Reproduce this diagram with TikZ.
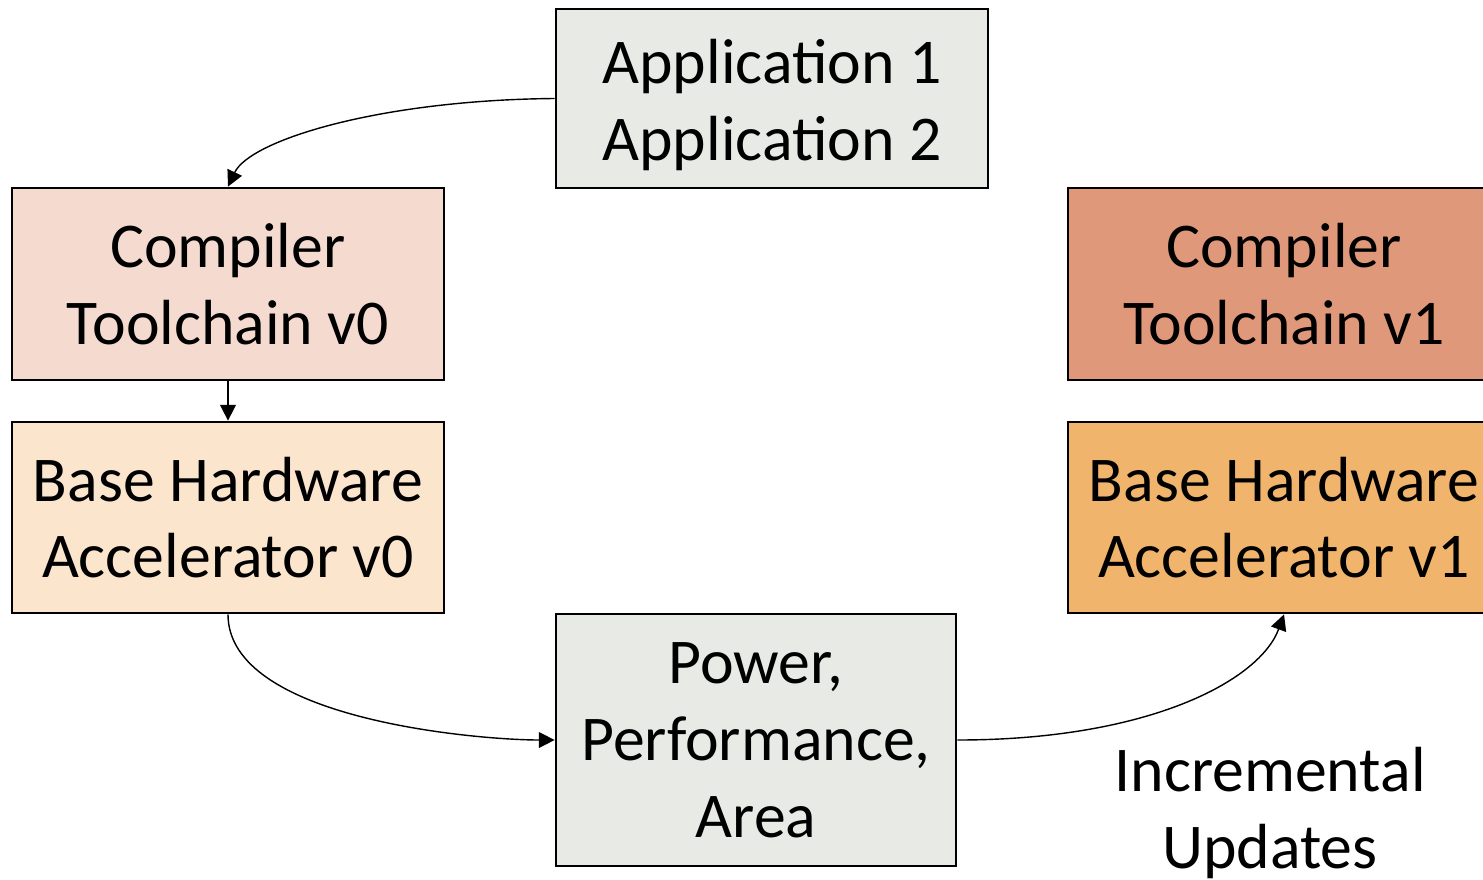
\documentclass[tikz,border=0pt]{standalone}
\usepackage{fontspec}
\setmainfont{Carlito}
\usetikzlibrary{arrows.meta}
\definecolor{appgray}{HTML}{E8EAE5}
\definecolor{compzero}{HTML}{F5DBCF}
\definecolor{hwzero}{HTML}{FBE5CD}
\definecolor{compone}{HTML}{E0987A}
\definecolor{hwone}{HTML}{F1B46C}
\tikzset{
  box/.style={draw=black, line width=1.6pt, rectangle, inner sep=0pt,
    align=center, font=\fontsize{36.3}{43.7}\selectfont,
    minimum width=8.64cm},
  note/.style={align=center, inner sep=0pt, font=\fontsize{36.3}{43.7}\selectfont},
  conn/.style={line width=0.8pt, -{Triangle[length=9pt,width=9pt]}}
}
\begin{document}
\begin{tikzpicture}[x=0.02cm, y=-0.02cm]
  \useasboundingbox (0,0) rectangle (1483,879);
  \clip (0,0) rectangle (1483,879);

  % left column: starting toolchain and hardware
  \node[box, fill=appgray, minimum height=3.58cm] (app) at (772,98.5)
    {\rule{0pt}{0.9em}Application 1\\Application 2};
  \node[box, fill=compzero, minimum height=3.84cm] (comp0) at (228,284)
    {Compiler\\Toolchain v0};
  \node[box, fill=hwzero, minimum height=3.82cm] (hw0) at (228,517.5)
    {Base Hardware\\Accelerator v0};

  % evaluation metrics
  \node[box, fill=appgray, minimum width=8cm, minimum height=5.04cm] (ppa) at (756,740)
    {Power,\\Performance,\\Area};

  % right column: updated toolchain and hardware
  \node[box, fill=compone, minimum height=3.84cm] (comp1) at (1284,284)
    {Compiler\\Toolchain v1};
  \node[box, fill=hwone, minimum height=3.82cm] (hw1) at (1284,517.5)
    {Base Hardware\\Accelerator v1};

  \node[note] (inc) at (1270,813) {Incremental\\Updates};

  % connectors
  \draw[conn] (app.west) .. controls (380,100) and (250,140) .. (comp0.north);
  \draw[conn] (comp0.south) -- (hw0.north);
  \draw[conn] (hw0.south) .. controls (228,720) and (480,740) .. (ppa.west);
  \draw[conn] (ppa.east) .. controls (1150,740) and (1260,680) .. (hw1.south);
\end{tikzpicture}
\end{document}
